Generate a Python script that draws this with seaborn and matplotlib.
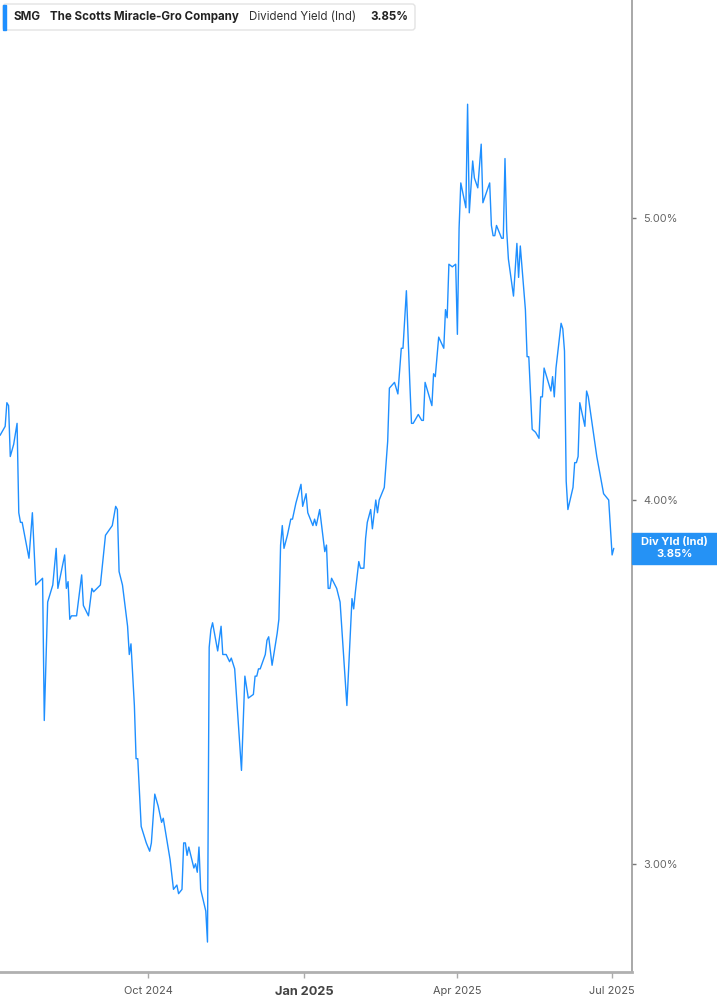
import numpy as np
import pandas as pd
import matplotlib
matplotlib.use("Agg")
import matplotlib.pyplot as plt
from matplotlib.patches import FancyBboxPatch, Rectangle
from matplotlib.ticker import FixedLocator, NullLocator
from matplotlib.transforms import IdentityTransform
import seaborn as sns

# ---------------- data ----------------
dates = [
    "2024-07-06", "2024-07-09", "2024-07-10", "2024-07-11", "2024-07-12", "2024-07-14",
    "2024-07-16", "2024-07-17", "2024-07-18", "2024-07-19", "2024-07-23", "2024-07-25",
    "2024-07-27", "2024-07-29", "2024-07-31", "2024-08-01", "2024-08-03", "2024-08-06",
    "2024-08-08", "2024-08-09", "2024-08-13", "2024-08-14", "2024-08-15", "2024-08-16",
    "2024-08-17", "2024-08-20", "2024-08-23", "2024-08-24", "2024-08-27", "2024-08-29",
    "2024-08-30", "2024-09-03", "2024-09-06", "2024-09-10", "2024-09-12", "2024-09-13",
    "2024-09-14", "2024-09-16", "2024-09-19", "2024-09-20", "2024-09-21", "2024-09-23",
    "2024-09-24", "2024-09-25", "2024-09-27", "2024-09-30", "2024-10-02", "2024-10-03",
    "2024-10-05", "2024-10-07", "2024-10-09", "2024-10-10", "2024-10-12", "2024-10-14",
    "2024-10-16", "2024-10-18", "2024-10-19", "2024-10-21", "2024-10-22", "2024-10-23",
    "2024-10-24", "2024-10-25", "2024-10-28", "2024-10-29", "2024-10-30", "2024-10-31",
    "2024-11-01", "2024-11-04", "2024-11-05", "2024-11-06", "2024-11-07", "2024-11-08",
    "2024-11-11", "2024-11-13", "2024-11-14", "2024-11-16", "2024-11-18", "2024-11-19",
    "2024-11-21", "2024-11-25", "2024-11-27", "2024-11-29", "2024-12-02", "2024-12-03",
    "2024-12-04", "2024-12-05", "2024-12-06", "2024-12-09", "2024-12-10", "2024-12-11",
    "2024-12-13", "2024-12-16", "2024-12-17", "2024-12-18", "2024-12-19", "2024-12-20",
    "2024-12-22", "2024-12-24", "2024-12-25", "2024-12-27", "2024-12-30", "2024-12-31",
    "2025-01-02", "2025-01-03", "2025-01-06", "2025-01-07", "2025-01-08", "2025-01-10",
    "2025-01-13", "2025-01-14", "2025-01-15", "2025-01-16", "2025-01-17", "2025-01-20",
    "2025-01-21", "2025-01-22", "2025-01-26", "2025-01-28", "2025-01-29", "2025-01-30",
    "2025-01-31", "2025-02-02", "2025-02-03", "2025-02-05", "2025-02-06", "2025-02-07",
    "2025-02-09", "2025-02-10", "2025-02-12", "2025-02-13", "2025-02-14", "2025-02-17",
    "2025-02-19", "2025-02-20", "2025-02-23", "2025-02-25", "2025-02-27", "2025-02-28",
    "2025-03-02", "2025-03-04", "2025-03-05", "2025-03-06", "2025-03-09", "2025-03-11",
    "2025-03-12", "2025-03-13", "2025-03-17", "2025-03-18", "2025-03-19", "2025-03-21",
    "2025-03-24", "2025-03-25", "2025-03-26", "2025-03-27", "2025-03-29", "2025-03-31",
    "2025-04-01", "2025-04-02", "2025-04-03", "2025-04-06", "2025-04-07", "2025-04-08",
    "2025-04-10", "2025-04-11", "2025-04-13", "2025-04-15", "2025-04-16", "2025-04-20",
    "2025-04-21", "2025-04-22", "2025-04-23", "2025-04-24", "2025-04-27", "2025-04-28",
    "2025-04-29", "2025-04-30", "2025-05-01", "2025-05-04", "2025-05-06", "2025-05-07",
    "2025-05-08", "2025-05-11", "2025-05-12", "2025-05-13", "2025-05-15", "2025-05-17",
    "2025-05-19", "2025-05-20", "2025-05-21", "2025-05-22", "2025-05-26", "2025-05-27",
    "2025-05-28", "2025-05-29", "2025-06-01", "2025-06-02", "2025-06-03", "2025-06-04",
    "2025-06-05", "2025-06-08", "2025-06-09", "2025-06-10", "2025-06-11", "2025-06-12",
    "2025-06-15", "2025-06-16", "2025-06-17", "2025-06-22", "2025-06-23", "2025-06-26",
    "2025-06-29", "2025-07-01", "2025-07-02",
]
yields = [
    4.21, 4.24, 4.32, 4.31, 4.14, 4.18,
    4.25, 3.96, 3.93, 3.93, 3.82, 3.96,
    3.74, 3.75, 3.76, 3.36, 3.69, 3.74,
    3.85, 3.73, 3.83, 3.73, 3.75, 3.64,
    3.65, 3.65, 3.77, 3.68, 3.65, 3.73,
    3.72, 3.74, 3.89, 3.92, 3.98, 3.97,
    3.78, 3.74, 3.62, 3.54, 3.57, 3.40,
    3.26, 3.26, 3.09, 3.05, 3.03, 3.05,
    3.17, 3.14, 3.10, 3.11, 3.06, 3.01,
    2.94, 2.95, 2.93, 2.94, 3.05, 3.05,
    3.02, 3.04, 2.99, 3.00, 2.98, 3.04,
    2.94, 2.89, 2.82, 3.56, 3.61, 3.63,
    3.55, 3.62, 3.54, 3.54, 3.52, 3.53,
    3.50, 3.23, 3.48, 3.42, 3.43, 3.48,
    3.48, 3.50, 3.50, 3.54, 3.58, 3.59,
    3.51, 3.60, 3.64, 3.86, 3.92, 3.85,
    3.89, 3.94, 3.94, 3.99, 4.05, 3.98,
    4.02, 3.96, 3.92, 3.94, 3.92, 3.97,
    3.84, 3.86, 3.73, 3.73, 3.76, 3.73,
    3.71, 3.69, 3.40, 3.60, 3.70, 3.67,
    3.72, 3.81, 3.79, 3.79, 3.88, 3.93,
    3.97, 3.91, 4.00, 3.96, 4.00, 4.04,
    4.19, 4.37, 4.39, 4.35, 4.51, 4.51,
    4.72, 4.39, 4.25, 4.25, 4.28, 4.26,
    4.26, 4.39, 4.31, 4.42, 4.41, 4.55,
    4.51, 4.65, 4.62, 4.82, 4.81, 4.82,
    4.56, 4.96, 5.14, 5.04, 5.47, 5.02,
    5.23, 5.16, 5.12, 5.30, 5.06, 5.14,
    4.97, 4.93, 4.93, 4.97, 4.92, 4.92,
    5.24, 4.95, 4.84, 4.70, 4.90, 4.77,
    4.89, 4.65, 4.48, 4.48, 4.23, 4.22,
    4.20, 4.34, 4.34, 4.44, 4.36, 4.41,
    4.34, 4.44, 4.60, 4.58, 4.50, 4.06,
    3.97, 4.04, 4.12, 4.12, 4.14, 4.32,
    4.24, 4.36, 4.34, 4.14, 4.11, 4.02,
    4.00, 3.83, 3.85,
]
y_ticks = [3.0, 4.0, 5.0]
y_tick_labels = ["3.00%", "4.00%", "5.00%"]
x_ticks = ["2024-10-01", "2025-01-01", "2025-04-01", "2025-07-01"]
x_tick_labels = ["Oct 2024", "Jan 2025", "Apr 2025", "Jul 2025"]
ticker = "SMG"
company = "The Scotts Miracle-Gro Company"
metric = "Dividend Yield (Ind)"
badge_title = "Div Yld (Ind)"

# ---------------- style ----------------
sns.set_style("white")
plt.rcParams["font.family"] = ["Inter", "DejaVu Sans"]

LINE = "#1e8fff"
BADGE = "#2592f5"

W, H = 717, 1005
fig = plt.figure(figsize=(W / 100, H / 100), dpi=100)
fig.patch.set_facecolor("white")
ax = fig.add_axes([0, (H - 972) / H, 632 / W, 972 / H])

df = pd.DataFrame({"date": pd.to_datetime(dates), "yield": yields})
sns.lineplot(data=df, x="date", y="yield", ax=ax, color=LINE, linewidth=1.0)

ax.set_yscale("log")
ax.set_ylim(2.754, 5.94)
ax.set_xlim(pd.Timestamp("2024-07-05 23:00"), pd.Timestamp("2025-07-12 17:00"))
ax.set_xlabel("")
ax.set_ylabel("")

ax.yaxis.tick_right()
ax.yaxis.set_major_locator(FixedLocator(y_ticks))
ax.yaxis.set_minor_locator(NullLocator())
ax.set_yticklabels(y_tick_labels)
ax.tick_params(axis="y", which="major", right=True, left=False, length=3, width=1,
               color="#777777", labelcolor="#666666", labelsize=7.9, pad=5)

ax.set_xticks(pd.to_datetime(x_ticks))
ax.set_xticklabels(x_tick_labels)
ax.xaxis.set_minor_locator(NullLocator())
ax.tick_params(axis="x", which="major", bottom=True, length=4, width=1,
               color="#aaaaaa", labelcolor="#555555", labelsize=7.9, pad=6)
for lab in ax.get_xticklabels():
    if lab.get_text().startswith("Jan"):
        lab.set_fontweight("bold")
        lab.set_fontsize(9.2)
        lab.set_color("#444444")

for s in ("left", "top"):
    ax.spines[s].set_visible(False)
ax.spines["right"].set_color("#999999")
ax.spines["right"].set_linewidth(1.2)
ax.spines["bottom"].set_color("#b0b0b0")
ax.spines["bottom"].set_linewidth(2.0)
ax.grid(False)

# ---------------- header ----------------
idt = IdentityTransform()
hdr = FancyBboxPatch((3, H - 30), 412, 26, boxstyle="round,pad=0,rounding_size=3",
                     fc="white", ec="#e3e3e3", lw=1, transform=idt, zorder=5)
fig.add_artist(hdr)
fig.add_artist(Rectangle((3, H - 29.5), 3, 25, color=LINE, transform=idt, zorder=6))
hy = H - 17
HFS = 8.3
fig.text(13, hy, ticker, transform=idt, fontsize=HFS, fontweight="bold",
         color="#222222", va="center", zorder=7)
fig.text(50, hy, company, transform=idt, fontsize=HFS, fontweight="bold",
         color="#222222", va="center", zorder=7)
fig.text(249, hy, metric, transform=idt, fontsize=HFS, color="#333333",
         va="center", zorder=7)
fig.text(370, hy, f"{yields[-1]:.2f}%", transform=idt, fontsize=HFS, fontweight="bold",
         color="#222222", va="center", zorder=7)

# ---------------- last value badge ----------------
fig.canvas.draw()
yb = ax.transData.transform((ax.get_xlim()[1], yields[-1]))[1]
fig.add_artist(Rectangle((632, yb - 15.5), 85, 31, color=BADGE, transform=idt, zorder=6))
fig.text(674.5, yb + 6, badge_title, transform=idt, fontsize=8, fontweight="bold",
         color="white", ha="center", va="center", zorder=7)
fig.text(674.5, yb - 6, f"{yields[-1]:.2f}%", transform=idt, fontsize=8, fontweight="bold",
         color="white", ha="center", va="center", zorder=7)

fig.savefig("out.png", dpi=100, facecolor="white")
